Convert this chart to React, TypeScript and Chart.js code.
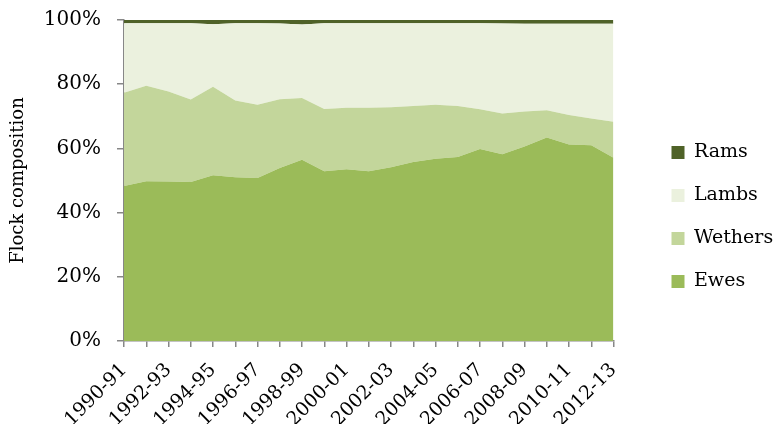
import React, { useEffect, useRef } from 'react';
import { Chart, registerables } from 'chart.js';

Chart.register(...registerables);

const years = [
  '1990-91', '1991-92', '1992-93', '1993-94', '1994-95', '1995-96', '1996-97', '1997-98',
  '1998-99', '1999-00', '2000-01', '2001-02', '2002-03', '2003-04', '2004-05', '2005-06',
  '2006-07', '2007-08', '2008-09', '2009-10', '2010-11', '2011-12', '2012-13',
];

// Percent of flock
const ewes = [48.3, 49.8, 49.7, 49.5, 51.6, 51.0, 50.8, 53.9, 56.5, 52.9, 53.5, 52.9, 54.1, 55.8, 56.8, 57.3, 59.8, 58.2, 60.6, 63.4, 61.2, 61.0, 57.1];
const wethers = [29.0, 29.7, 28.0, 25.7, 27.6, 23.9, 22.8, 21.4, 19.2, 19.4, 19.2, 19.8, 18.7, 17.4, 16.8, 15.9, 12.4, 12.7, 10.9, 8.5, 9.2, 8.3, 11.2];
const lambs = [21.7, 19.5, 21.3, 23.8, 19.5, 24.1, 25.4, 23.6, 22.9, 26.7, 26.3, 26.3, 26.2, 25.8, 25.4, 25.8, 26.8, 28.0, 27.3, 26.9, 28.4, 29.5, 30.5];
const rams = [1.0, 1.0, 1.0, 1.0, 1.3, 1.0, 1.0, 1.1, 1.4, 1.0, 1.0, 1.0, 1.0, 1.0, 1.0, 1.0, 1.0, 1.1, 1.2, 1.2, 1.2, 1.2, 1.2];

const yMin = 0;
const yMax = 100;
const yStep = 20;

const FONT = "'DejaVu Serif', serif";
const AXIS = '#878787';

export default function App() {
  const ref = useRef<HTMLCanvasElement | null>(null);

  useEffect(() => {
    if (!ref.current) return;
    const mk = (label: string, data: number[], color: string, fill: any) => ({
      label,
      data,
      backgroundColor: color,
      borderColor: color,
      borderWidth: 0,
      pointRadius: 0,
      pointHoverRadius: 0,
      fill,
      tension: 0,
    });
    const chart = new Chart(ref.current, {
      type: 'line',
      data: {
        labels: years,
        datasets: [
          mk('Ewes', ewes, '#9BBB59', 'origin'),
          mk('Wethers', wethers, '#C3D69B', '-1'),
          mk('Lambs', lambs, '#EBF1DE', '-1'),
          mk('Rams', rams, '#4F6228', '-1'),
        ],
      },
      options: {
        animation: false,
        responsive: true,
        maintainAspectRatio: false,
        layout: { padding: { top: 10, right: 0, bottom: 0, left: 0 } },
        plugins: {
          tooltip: { enabled: false },
          legend: {
            position: 'right',
            reverse: true,
            labels: {
              boxWidth: 13,
              boxHeight: 13,
              padding: 24,
              color: '#000',
              font: { family: FONT, size: 19 },
            },
          },
        },
        scales: {
          x: {
            type: 'category',
            offset: false,
            grid: {
              display: true,
              drawOnChartArea: false,
              drawTicks: true,
              tickLength: 6,
              color: AXIS,
              lineWidth: 1.5,
            },
            border: { display: true, color: AXIS, width: 1.5 },
            ticks: {
              autoSkip: false,
              minRotation: 45,
              maxRotation: 45,
              padding: 12,
              color: '#000',
              font: { family: FONT, size: 19 },
              callback: (_v: any, i: number) => (i % 2 === 0 ? years[i] : ''),
            },
            afterFit: (s: any) => {
              s.height = 83;
            },
          },
          y: {
            stacked: true,
            min: yMin,
            max: yMax,
            grid: {
              display: true,
              drawOnChartArea: false,
              drawTicks: true,
              tickLength: 7,
              color: AXIS,
              lineWidth: 1.5,
            },
            border: { display: true, color: AXIS, width: 1.5 },
            ticks: {
              stepSize: yStep,
              padding: 16,
              color: '#000',
              font: { family: FONT, size: 20 },
              callback: (v: any) => `${v}%`,
            },
            title: {
              display: true,
              text: 'Flock composition',
              color: '#000',
              font: { family: FONT, size: 18 },
              padding: { top: 8, bottom: 0 },
            },
            afterFit: (s: any) => {
              s.width = 124;
              s.paddingTop = 20;
              s.paddingBottom = 0;
            },
          },
          yRight: {
            type: 'linear',
            position: 'right',
            display: true,
            grid: { display: false, drawTicks: false },
            border: { display: false },
            ticks: { display: false },
            afterFit: (s: any) => {
              s.width = 34;
            },
          },
        },
      },
    });
    return () => chart.destroy();
  }, []);

  return (
    <div style={{ position: 'fixed', left: 0, top: 0, width: 777, height: 424 }}>
      <canvas ref={ref} />
    </div>
  );
}
